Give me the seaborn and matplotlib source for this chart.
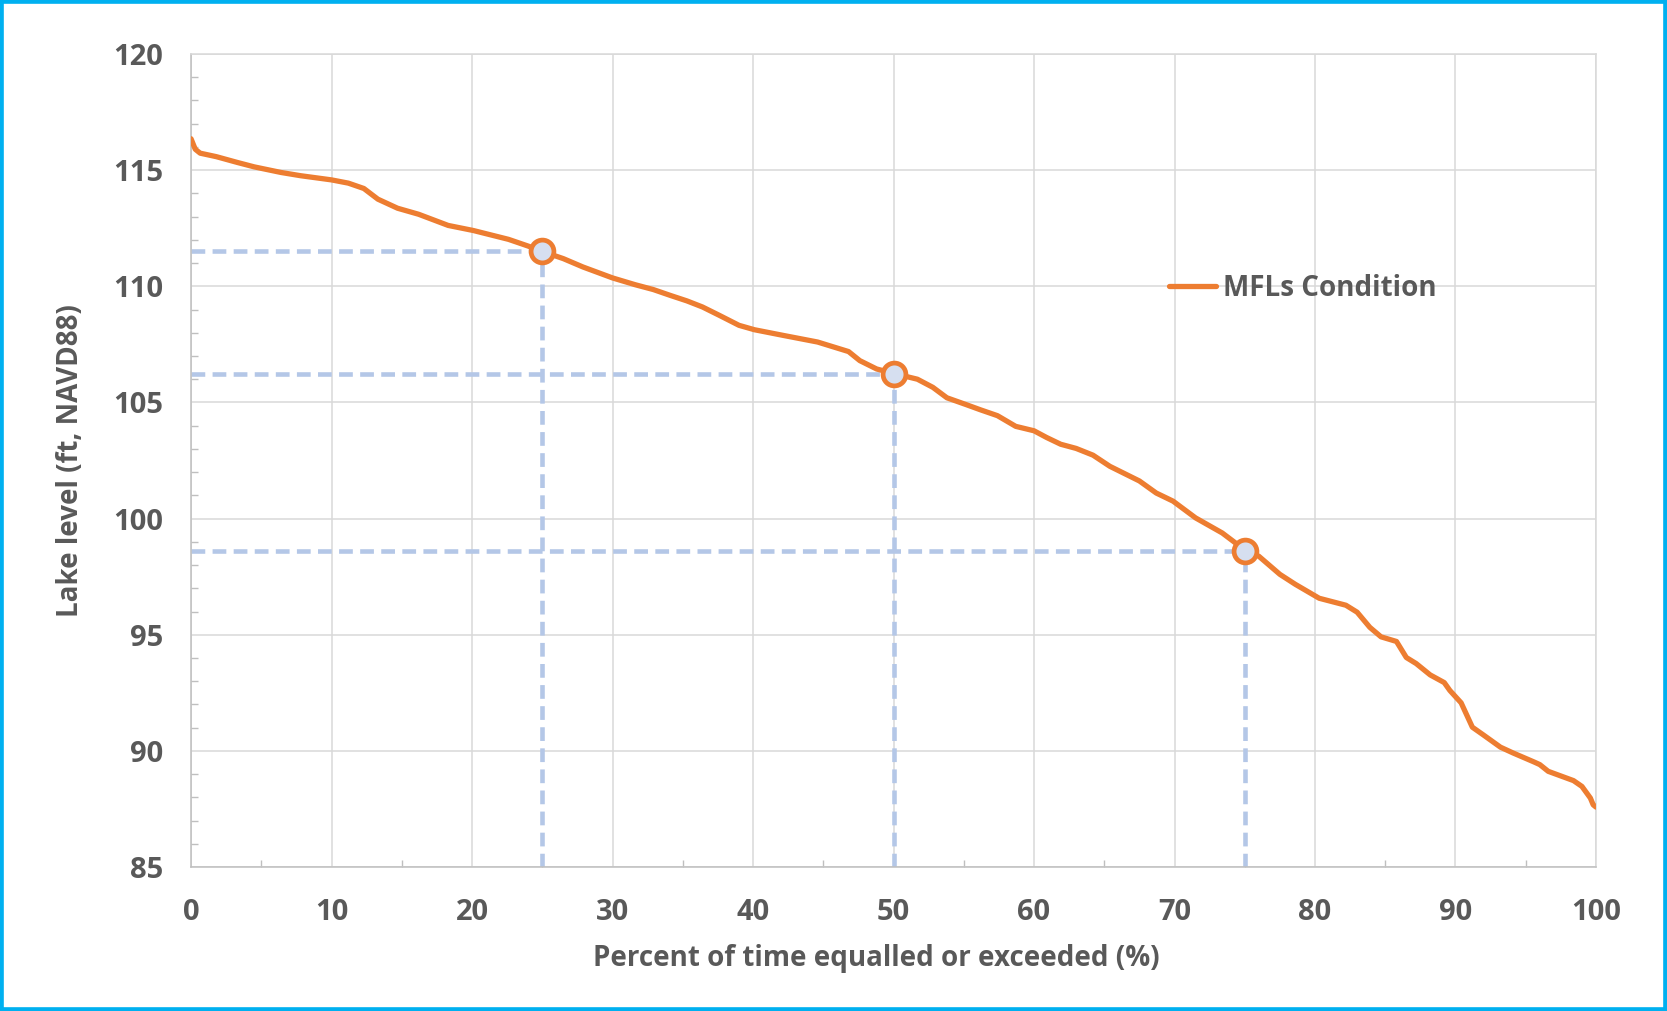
import matplotlib
matplotlib.use("Agg")
import matplotlib.pyplot as plt
from matplotlib.ticker import MultipleLocator
import seaborn as sns

# exceedance curve
pct = [0, 0.3, 0.65, 1.8, 3.3, 4.5, 6.4, 7.8, 10, 11.2, 12.3, 13.3, 14.7, 16.2,
       18.3, 20.1, 22.6, 24.0, 25, 26.5, 27.9, 30, 31.6, 32.9, 34.1, 35.3, 36.4,
       37.6, 39.0, 40.1, 42.2, 44.6, 46.8, 47.6, 48.8, 50, 51.7, 52.8, 53.8, 55.2,
       56.2, 57.4, 58.7, 60, 60.9, 61.9, 63.0, 64.2, 65.4, 67.5, 68.7, 69.9, 71.5,
       73.4, 75, 76.0, 77.5, 78.6, 80.3, 82.2, 83.0, 83.9, 84.7, 85.8, 86.5, 87.2,
       88.2, 89.2, 89.6, 90.4, 91.2, 92.0, 93.2, 94.1, 95.6, 96.0, 96.6, 98.4,
       99.0, 99.6, 99.8, 100]
level = [116.35, 115.9, 115.73, 115.58, 115.33, 115.14, 114.9, 114.76, 114.58,
         114.44, 114.21, 113.75, 113.36, 113.1, 112.62, 112.4, 112.02, 111.73,
         111.5, 111.19, 110.83, 110.36, 110.07, 109.86, 109.61, 109.37, 109.11,
         108.75, 108.32, 108.13, 107.88, 107.6, 107.19, 106.8, 106.44, 106.25,
         106.0, 105.65, 105.2, 104.9, 104.68, 104.43, 103.97, 103.78, 103.49,
         103.2, 103.02, 102.73, 102.25, 101.62, 101.1, 100.75, 100.03, 99.38,
         98.65, 98.38, 97.6, 97.17, 96.57, 96.27, 95.97, 95.32, 94.91, 94.71,
         94.02, 93.76, 93.27, 92.94, 92.6, 92.07, 91.02, 90.68, 90.16, 89.91,
         89.52, 89.41, 89.12, 88.72, 88.47, 87.97, 87.68, 87.58]

# highlighted exceedance points
mark_pct = [25, 50, 75]
mark_level = [111.5, 106.22, 98.62]

series_name = "MFLs Condition"
x_title = "Percent of time equalled or exceeded (%)"
y_title = "Lake level (ft, NAVD88)"

sns.set_theme(style="whitegrid")
plt.rcParams['font.family'] = ['Open Sans', 'DejaVu Sans']
plt.rcParams['font.weight'] = 'bold'

orange = "#ED7D31"
dash_blue = "#B4C7E7"
txt = "#595959"

fig = plt.figure(figsize=(16.67, 10.11), dpi=100)
ax = fig.add_axes([0.1146, 0.1424, 0.8428, 0.8042])

# guide lines from the axes to each marker
for px, py in zip(mark_pct, mark_level):
    ax.plot([0, px], [py, py], color=dash_blue, lw=3.3, dashes=(3.0, 1.6), zorder=2)
    ax.plot([px, px], [85, py], color=dash_blue, lw=3.3, dashes=(3.0, 1.6), zorder=2)

sns.lineplot(x=pct, y=level, ax=ax, color=orange, linewidth=3.8, label=series_name,
             zorder=3)
sns.scatterplot(x=mark_pct, y=mark_level, ax=ax, s=270, color="#D6DFF0",
                edgecolor=orange, linewidth=3.4, zorder=4, legend=False)

ax.set_xlim(0, 100)
ax.set_ylim(85, 120)
ax.xaxis.set_major_locator(MultipleLocator(10))
ax.xaxis.set_minor_locator(MultipleLocator(5))
ax.yaxis.set_major_locator(MultipleLocator(5))
ax.yaxis.set_minor_locator(MultipleLocator(1))

ax.grid(True, which='major', color="#D9D9D9", linewidth=1.1)
ax.grid(False, which='minor')
ax.tick_params(which='major', length=0, labelsize=21, labelcolor=txt)
ax.tick_params(axis='y', which='major', pad=20)
ax.tick_params(axis='x', which='major', pad=22)
ax.tick_params(which='minor', direction='in', length=5, width=1, color="#BFBFBF",
               left=True, bottom=True)
for lab in ax.get_xticklabels() + ax.get_yticklabels():
    lab.set_fontweight('bold')

for side in ['left', 'bottom']:
    ax.spines[side].set_color("#BFBFBF")
    ax.spines[side].set_linewidth(1.1)
for side in ['top', 'right']:
    ax.spines[side].set_color("#D9D9D9")
    ax.spines[side].set_linewidth(1.1)

ax.set_xlabel(x_title, fontsize=20, fontweight='bold', color=txt)
ax.xaxis.set_label_coords(0.4875, -0.095)
ax.set_ylabel(y_title, fontsize=20, fontweight='bold', color=txt, labelpad=20)

leg = ax.legend(loc='center left', bbox_to_anchor=(0.678, 0.712), frameon=False,
                handlelength=1.7, handletextpad=0.25, fontsize=20)
for t in leg.get_texts():
    t.set_color(txt)
    t.set_fontweight('bold')

fig.add_artist(plt.Rectangle((0, 0), 1, 1, transform=fig.transFigure, fill=False,
                             edgecolor="#00B0F0", linewidth=5.5))

fig.savefig("out.png", dpi=100)
